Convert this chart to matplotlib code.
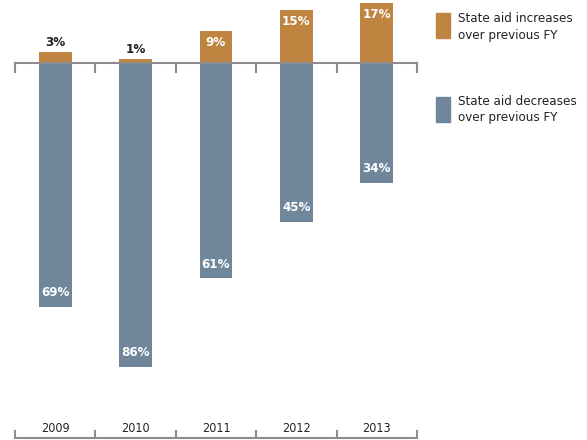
import numpy as np
import matplotlib.pyplot as plt
from matplotlib.patches import Rectangle

years = ['2009', '2010', '2011', '2012', '2013']
increases = [3, 1, 9, 15, 17]
decreases = [69, 86, 61, 45, 34]

orange = '#C08441'
blue = '#6F869B'
grey = '#8C8C8C'
font = ['DejaVu Sans']
st = 'condensed'

fig = plt.figure(figsize=(5.87, 4.40), dpi=100)
W, H = 587, 440
ax = fig.add_axes([15 / W, 2 / H, (417 - 15) / W, (440 - 2) / H])
px = 3.53
ax.set_xlim(-0.5, 4.5)
ax.set_ylim(-(438 - 63) / px, 63 / px)
ax.axis('off')

x = np.arange(len(years))
ax.bar(x, increases, width=0.41, color=orange, zorder=2)
ax.bar(x, [-d for d in decreases], width=0.41, color=blue, zorder=2)

# zero line with ticks hanging down
ax.axhline(0, color=grey, lw=1.5, zorder=3)
tk = 9 / px
for b in np.arange(-0.5, 5, 1):
    ax.plot([b, b], [0, -tk], color=grey, lw=1.5, zorder=3, clip_on=False)

# bottom axis
ymin = ax.get_ylim()[0]
ax.plot([-0.5, 4.5], [ymin, ymin], color=grey, lw=1.5, clip_on=False)
for b in np.arange(-0.5, 5, 1):
    ax.plot([b, b], [ymin, ymin + 7 / px], color=grey, lw=1.5, clip_on=False)

for i, v in enumerate(increases):
    if v < 5:
        ax.text(i, v + 1, f'{v}%', ha='center', va='bottom', fontsize=9.5,
                fontweight='bold', color='#222222', family=font, stretch=st)
    else:
        ax.text(i, v - 1.3, f'{v}%', ha='center', va='top', fontsize=9.5,
                fontweight='bold', color='white', family=font, stretch=st)
for i, v in enumerate(decreases):
    ax.text(i, -v + 4, f'{v}%', ha='center', va='center', fontsize=9.5,
            fontweight='bold', color='white', family=font, stretch=st)

for i, y in enumerate(years):
    ax.text(i, ymin + 10 / px, y, ha='center', va='center', fontsize=9,
            color='#222222', family=font, stretch=st)

# legend
fig.patches.append(Rectangle((436 / W, 1 - 38 / H), 14 / W, 25 / H,
                             transform=fig.transFigure, color=orange))
fig.patches.append(Rectangle((436 / W, 1 - 122 / H), 14 / W, 25 / H,
                             transform=fig.transFigure, color=blue))
fig.text(458 / W, 1 - 12 / H, 'State aid increases\nover previous FY', ha='left',
         va='top', fontsize=9.5, color='#222222', family=font, stretch=st,
         linespacing=1.35)
fig.text(458 / W, 1 - 95 / H, 'State aid decreases\nover previous FY', ha='left',
         va='top', fontsize=9.5, color='#222222', family=font, stretch=st,
         linespacing=1.35)

fig.savefig('out.png', dpi=100, facecolor='white')
